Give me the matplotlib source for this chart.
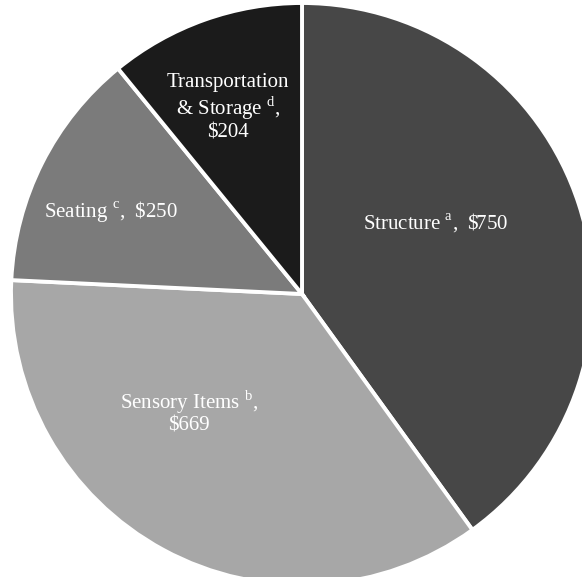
import matplotlib.pyplot as plt

W, H = 582, 577

categories = ['Structure', 'Sensory Items', 'Seating', 'Transportation & Storage']
costs = [750, 669, 250, 204]
colors = ['#474747', '#a7a7a7', '#7b7b7b', '#1b1b1b']

# label text + where it sits (pixels from top-left)
labels = ['Structure $^{\\mathrm{a}}$,  \\$750',
          'Sensory Items $^{\\mathrm{b}}$,\n\\$669',
          'Seating $^{\\mathrm{c}}$,  \\$250',
          'Transportation\n& Storage $^{\\mathrm{d}}$,\n\\$204']
label_pos = [(436, 223), (189, 412), (111, 211), (228, 108)]

plt.rcParams['mathtext.fontset'] = 'custom'
plt.rcParams['mathtext.rm'] = 'Liberation Serif'

fig = plt.figure(figsize=(W / 100, H / 100), dpi=100)
ax = fig.add_axes([0, 0, 1, 1])

ax.pie(costs, colors=colors, startangle=90, counterclock=False,
       center=(302, H - 294), radius=291,
       wedgeprops=dict(edgecolor='white', linewidth=2.8))

for txt, (x, y) in zip(labels, label_pos):
    ax.text(x, H - y, txt, ha='center', va='center', color='white',
            fontsize=15, family='Liberation Serif', linespacing=1.1)

ax.set_xlim(0, W)
ax.set_ylim(0, H)
ax.set_aspect('equal')
ax.axis('off')

fig.savefig('out.png', dpi=100)
